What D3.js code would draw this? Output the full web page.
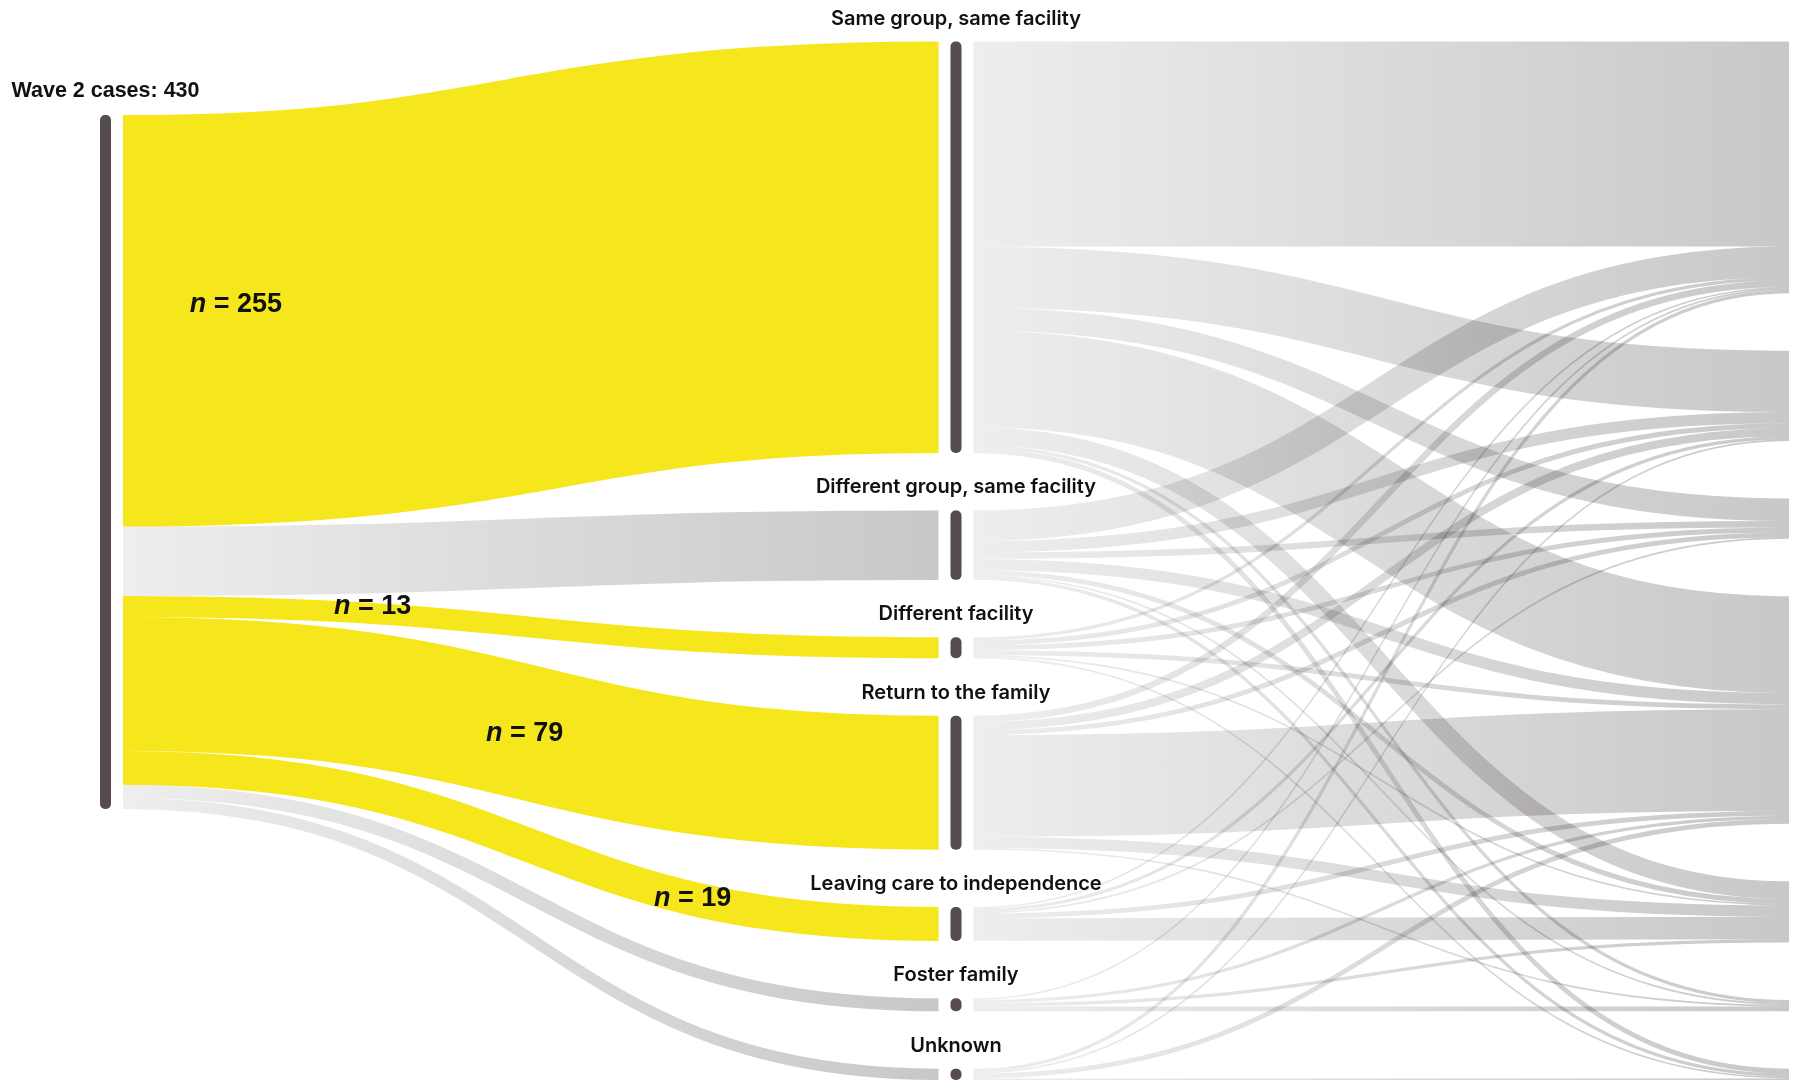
<!DOCTYPE html>
<html lang="en">
<head>
    <meta charset="UTF-8">
    <title>Wave 2 to wave 3 placements</title>
    <script src="https://d3js.org/d3.v7.min.js"></script>
    <style>
        body { margin: 0; background: #fff; }
        .node { fill: #564b4d; }
        .grey-link { mix-blend-mode: multiply; fill: none; }
        .yellow-link { fill: none; stroke: #f6e71d; }
        .node-label {
            font-family: Inter, "Noto Sans", sans-serif;
            font-weight: 600;
            font-size: 20px;
            fill: #111;
            text-anchor: middle;
        }
        .title {
            font-family: "Liberation Sans", Arial, sans-serif;
            font-weight: bold;
            font-size: 21.5px;
            fill: #111;
            text-anchor: middle;
        }
        .n-label {
            font-family: "Liberation Sans", Arial, sans-serif;
            font-weight: bold;
            font-size: 27px;
            fill: #111;
            text-anchor: middle;
        }
    </style>
</head>
<body>

<svg width="1800" height="1080"></svg>

<script>
    // ---- data ----
    const totalCases = 430;
    const titleText = "Wave 2 cases: 430";

    const categories = [
        "Same group, same facility",
        "Different group, same facility",
        "Different facility",
        "Return to the family",
        "Leaving care to independence",
        "Foster family",
        "Unknown"
    ];

    // wave 2 cases going to each placement
    const wave2Values = [255, 43, 13, 83, 21, 8, 7];
    const highlighted = [true, false, true, true, true, false, false];
    const nLabels = ["255", null, "13", "79", "19", null, null];

    // rows: placement after wave 2, columns: placement at the next wave (same category order)
    const sameGroupNext      = [127, 38, 14, 60, 11, 2, 3];
    const diffGroupNext      = [19, 7, 4, 7, 3, 1, 2];
    const diffFacilityNext   = [2, 3, 3, 3, 1, 0, 1];
    const returnFamilyNext   = [4, 5, 3, 63, 7, 1, 0];
    const leavingCareNext    = [1, 2, 1, 3, 14, 0, 0];
    const fosterFamilyNext   = [1, 0, 0, 2, 2, 3, 0];
    const unknownNext        = [2, 1, 0, 3, 0, 0, 1];
    const nextWave = [sameGroupNext, diffGroupNext, diffFacilityNext, returnFamilyNext,
                      leavingCareNext, fosterFamilyNext, unknownNext];

    // ---- layout ----
    const width = 1800, height = 1080;
    const nodeWidth = 11;
    const linkGap = 12;      // white space between a node and its links
    const leftTop = 115;
    const colTop = 41.5;
    const colBottom = 1080;

    const svg = d3.select("svg");

    const colX = d3.scalePoint().domain([0, 1, 2]).range([100, 1801]);
    const y = d3.scaleLinear().domain([0, totalCases]).range([0, 694]);

    // stack a column of values from top to bottom with even padding
    function stackColumn(values, col) {
        const sum = d3.sum(values);
        const pad = (colBottom - colTop - y(sum)) / (values.length - 1);
        let cur = colTop;
        return values.map((v, i) => {
            const n = { i, value: v, x0: colX(col), x1: colX(col) + nodeWidth, y0: cur, y1: cur + y(v) };
            n.inOff = n.y0;
            n.outOff = n.y0;
            cur = n.y1 + pad;
            return n;
        });
    }

    const source = { x0: colX(0), x1: colX(0) + nodeWidth, y0: leftTop, y1: leftTop + y(totalCases) };
    source.outOff = source.y0;

    const midNodes = stackColumn(wave2Values, 1);
    const rightValues = categories.map((c, j) => d3.sum(nextWave, row => row[j]));
    const rightNodes = stackColumn(rightValues, 2);

    // links wave 2 -> placement
    const firstLinks = wave2Values.map((v, i) => {
        const w = y(v);
        const l = {
            i, value: v, width: w,
            x0: source.x1 + linkGap, x1: midNodes[i].x0 - linkGap,
            y0: source.outOff + w / 2, y1: midNodes[i].inOff + w / 2
        };
        source.outOff += w;
        midNodes[i].inOff += w;
        return l;
    });

    // links placement -> next wave
    const secondLinks = [];
    nextWave.forEach((row, i) => {
        row.forEach((v, j) => {
            if (!v) return;
            const w = y(v);
            secondLinks.push({
                i, j, value: v, width: w,
                x0: midNodes[i].x1 + linkGap, x1: rightNodes[j].x0 - linkGap,
                y0: midNodes[i].outOff + w / 2, y1: 0
            });
            midNodes[i].outOff += w;
        });
    });
    // incoming order at the right nodes follows the source order
    d3.sort(secondLinks, d => d.i).forEach(l => {
        l.y1 = rightNodes[l.j].inOff + l.width / 2;
        rightNodes[l.j].inOff += l.width;
    });

    // grey gradients, light at the start of a link, darker at the end
    const defs = svg.append("defs");
    function greyGradient(id, xa, xb) {
        const g = defs.append("linearGradient")
            .attr("id", id)
            .attr("gradientUnits", "userSpaceOnUse")
            .attr("x1", xa).attr("x2", xb).attr("y1", 0).attr("y2", 0);
        g.append("stop").attr("offset", "0%").attr("stop-color", "#eeeeee");
        g.append("stop").attr("offset", "100%").attr("stop-color", "#c9c7c8");
    }
    greyGradient("grad1", firstLinks[0].x0, firstLinks[0].x1);
    greyGradient("grad2", secondLinks[0].x0, secondLinks[0].x1);

    const linkPath = d3.linkHorizontal()
        .source(d => [d.x0, d.y0])
        .target(d => [d.x1, d.y1]);

    svg.append("g")
        .selectAll("path")
        .data(secondLinks)
        .join("path")
        .attr("class", "grey-link")
        .attr("d", linkPath)
        .attr("stroke", "url(#grad2)")
        .attr("stroke-width", d => d.width);

    svg.append("g")
        .selectAll("path")
        .data(firstLinks)
        .join("path")
        .attr("class", d => highlighted[d.i] ? "yellow-link" : "grey-link")
        .attr("d", linkPath)
        .attr("stroke", d => highlighted[d.i] ? null : "url(#grad1)")
        .attr("stroke-width", d => d.width);

    // nodes
    const allNodes = [source, ...midNodes, ...rightNodes];
    svg.append("g")
        .selectAll("rect")
        .data(allNodes)
        .join("rect")
        .attr("class", "node")
        .attr("x", d => d.x0)
        .attr("y", d => d.y0)
        .attr("width", nodeWidth)
        .attr("height", d => Math.max(d.y1 - d.y0, 1))
        .attr("rx", 5);

    // labels
    svg.append("text")
        .attr("class", "title")
        .attr("x", (source.x0 + source.x1) / 2)
        .attr("y", source.y0 - 18)
        .text(titleText);

    svg.append("g")
        .selectAll("text")
        .data(midNodes)
        .join("text")
        .attr("class", "node-label")
        .attr("x", d => (d.x0 + d.x1) / 2)
        .attr("y", d => d.y0 - 17)
        .text(d => categories[d.i]);

    // "n = " annotations along the highlighted links (u = position along the curve)
    const nSpots = { 0: { u: 0.102, dy: -16 }, 2: { u: 0.26, dy: -8 }, 3: { u: 0.49, dy: 0 }, 4: { u: 0.745, dy: -2 } };
    function pointOnLink(l, u) {
        const fx = 1.5 * u * (1 - u) + u * u * u;
        const fy = 3 * u * u - 2 * u * u * u;
        return [l.x0 + (l.x1 - l.x0) * fx, l.y0 + (l.y1 - l.y0) * fy];
    }
    const nText = svg.append("g")
        .selectAll("text")
        .data(firstLinks.filter(l => nLabels[l.i]))
        .join("text")
        .attr("class", "n-label")
        .attr("dominant-baseline", "central")
        .attr("x", d => pointOnLink(d, nSpots[d.i].u)[0])
        .attr("y", d => pointOnLink(d, nSpots[d.i].u)[1] + nSpots[d.i].dy);
    nText.append("tspan").attr("font-style", "italic").text("n");
    nText.append("tspan").text(d => " = " + nLabels[d.i]);
</script>

</body>
</html>
